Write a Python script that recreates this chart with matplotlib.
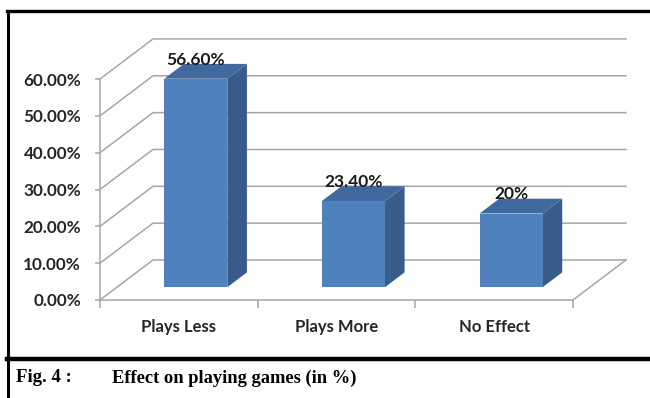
import numpy as np
import matplotlib
matplotlib.use('Agg')
import matplotlib.pyplot as plt
from matplotlib.patches import Polygon
from matplotlib.lines import Line2D

matplotlib.rcParams['font.family'] = ['Lato', 'DejaVu Sans']

# data
categories = ['Plays Less', 'Plays More', 'No Effect']
values = [0.566, 0.234, 0.20]
value_labels = ['56.60%', '23.40%', '20%']
yticks = [0.0, 0.1, 0.2, 0.3, 0.4, 0.5, 0.6]
caption_num = 'Fig. 4 :'
caption_text = 'Effect on playing games (in %)'

# fake 3d: depth offset in data units
DX = 0.336
DY = 0.1087
bar_w = 0.40
f0, f1 = 0.32, 0.69

front_col = '#4F81BD'
side_col = '#385D8A'
top_col = '#41699D'
grid_col = '#A6A6A6'
text_col = '#262626'


def proj(x, y, f):
    return (x + f * DX, y + f * DY)


fig = plt.figure(figsize=(6.5, 3.98), dpi=100)
ax = fig.add_axes([100 / 650, (398 - 300) / 398, 473 / 650, (300 - 79) / 398])
ax.set_xlim(0, len(categories))
ax.set_ylim(0, 0.6)
ax.patch.set_visible(False)

# walls: left wall diagonals + back wall gridlines
for t in yticks:
    xs, ys = zip(proj(0, t, 0), proj(0, t, 1), proj(len(categories), t, 1))
    ax.plot(xs, ys, color=grid_col, lw=1.1, clip_on=False, zorder=1)
# floor right edge
xs, ys = zip(proj(len(categories), 0, 0), proj(len(categories), 0, 1))
ax.plot(xs, ys, color=grid_col, lw=1.1, clip_on=False, zorder=1)

# bars
for i, v in enumerate(values):
    x0 = i + 0.5 - bar_w / 2
    x1 = i + 0.5 + bar_w / 2
    front = [proj(x0, 0, f0), proj(x1, 0, f0), proj(x1, v, f0), proj(x0, v, f0)]
    side = [proj(x1, 0, f0), proj(x1, 0, f1), proj(x1, v, f1), proj(x1, v, f0)]
    top = [proj(x0, v, f0), proj(x1, v, f0), proj(x1, v, f1), proj(x0, v, f1)]
    ax.add_patch(Polygon(side, closed=True, fc=side_col, ec='none', clip_on=False, zorder=3))
    ax.add_patch(Polygon(top, closed=True, fc=top_col, ec='none', clip_on=False, zorder=3))
    ax.add_patch(Polygon(front, closed=True, fc=front_col, ec='none', clip_on=False, zorder=4))
    lx, ly = proj(i + 0.5, v, f0)
    ax.annotate(value_labels[i], xy=(lx, ly), xytext=(0, 13.7), textcoords='offset points',
                ha='center', va='center', fontsize=12.5, fontweight='bold', color='#1a1a1a',
                zorder=6, annotation_clip=False)

# axes styling
for s in ['top', 'right']:
    ax.spines[s].set_visible(False)
ax.spines['left'].set_color(grid_col)
ax.spines['bottom'].set_color(grid_col)
ax.spines['left'].set_linewidth(1.1)
ax.spines['bottom'].set_linewidth(1.1)
ax.spines['left'].set_zorder(2)
ax.spines['bottom'].set_zorder(2)

ax.set_yticks(yticks)
ax.set_yticklabels(['{:.2f}%'.format(t * 100) for t in yticks])
ax.tick_params(axis='y', length=3.6, width=1.1, color=grid_col, pad=10,
               labelsize=12.3, labelcolor=text_col)
ax.set_xticks(range(len(categories) + 1))
ax.set_xticklabels([])
ax.set_xticks(np.arange(len(categories)) + 0.5, minor=True)
ax.set_xticklabels(categories, minor=True)
ax.tick_params(axis='x', which='major', length=5.5, width=1.1, color=grid_col)
ax.tick_params(axis='x', which='minor', length=0, pad=14, labelsize=12, labelcolor=text_col)
for lab in ax.get_yticklabels() + ax.get_xticklabels(minor=True):
    lab.set_fontweight('bold')

# frame lines of the figure (border + caption separator)
fig.add_artist(Line2D([8 / 650, 8 / 650], [0, (398 - 11) / 398], color='black', lw=2.2,
                      transform=fig.transFigure))
fig.add_artist(Line2D([7 / 650, 1], [(398 - 11) / 398, (398 - 11) / 398], color='black', lw=2.4,
                      transform=fig.transFigure))
fig.add_artist(Line2D([7 / 650, 1], [(398 - 359) / 398, (398 - 359) / 398], color='black', lw=3.2,
                      transform=fig.transFigure))

# caption
fig.text(16 / 650, (398 - 378) / 398, caption_num, fontsize=13.5, fontweight='bold',
         family=['Liberation Serif', 'DejaVu Serif'], va='center', ha='left')
fig.text(112 / 650, (398 - 378) / 398, caption_text, fontsize=13.3, fontweight='bold',
         family=['Liberation Serif', 'DejaVu Serif'], va='center', ha='left')

fig.savefig('out.png', dpi=100)
